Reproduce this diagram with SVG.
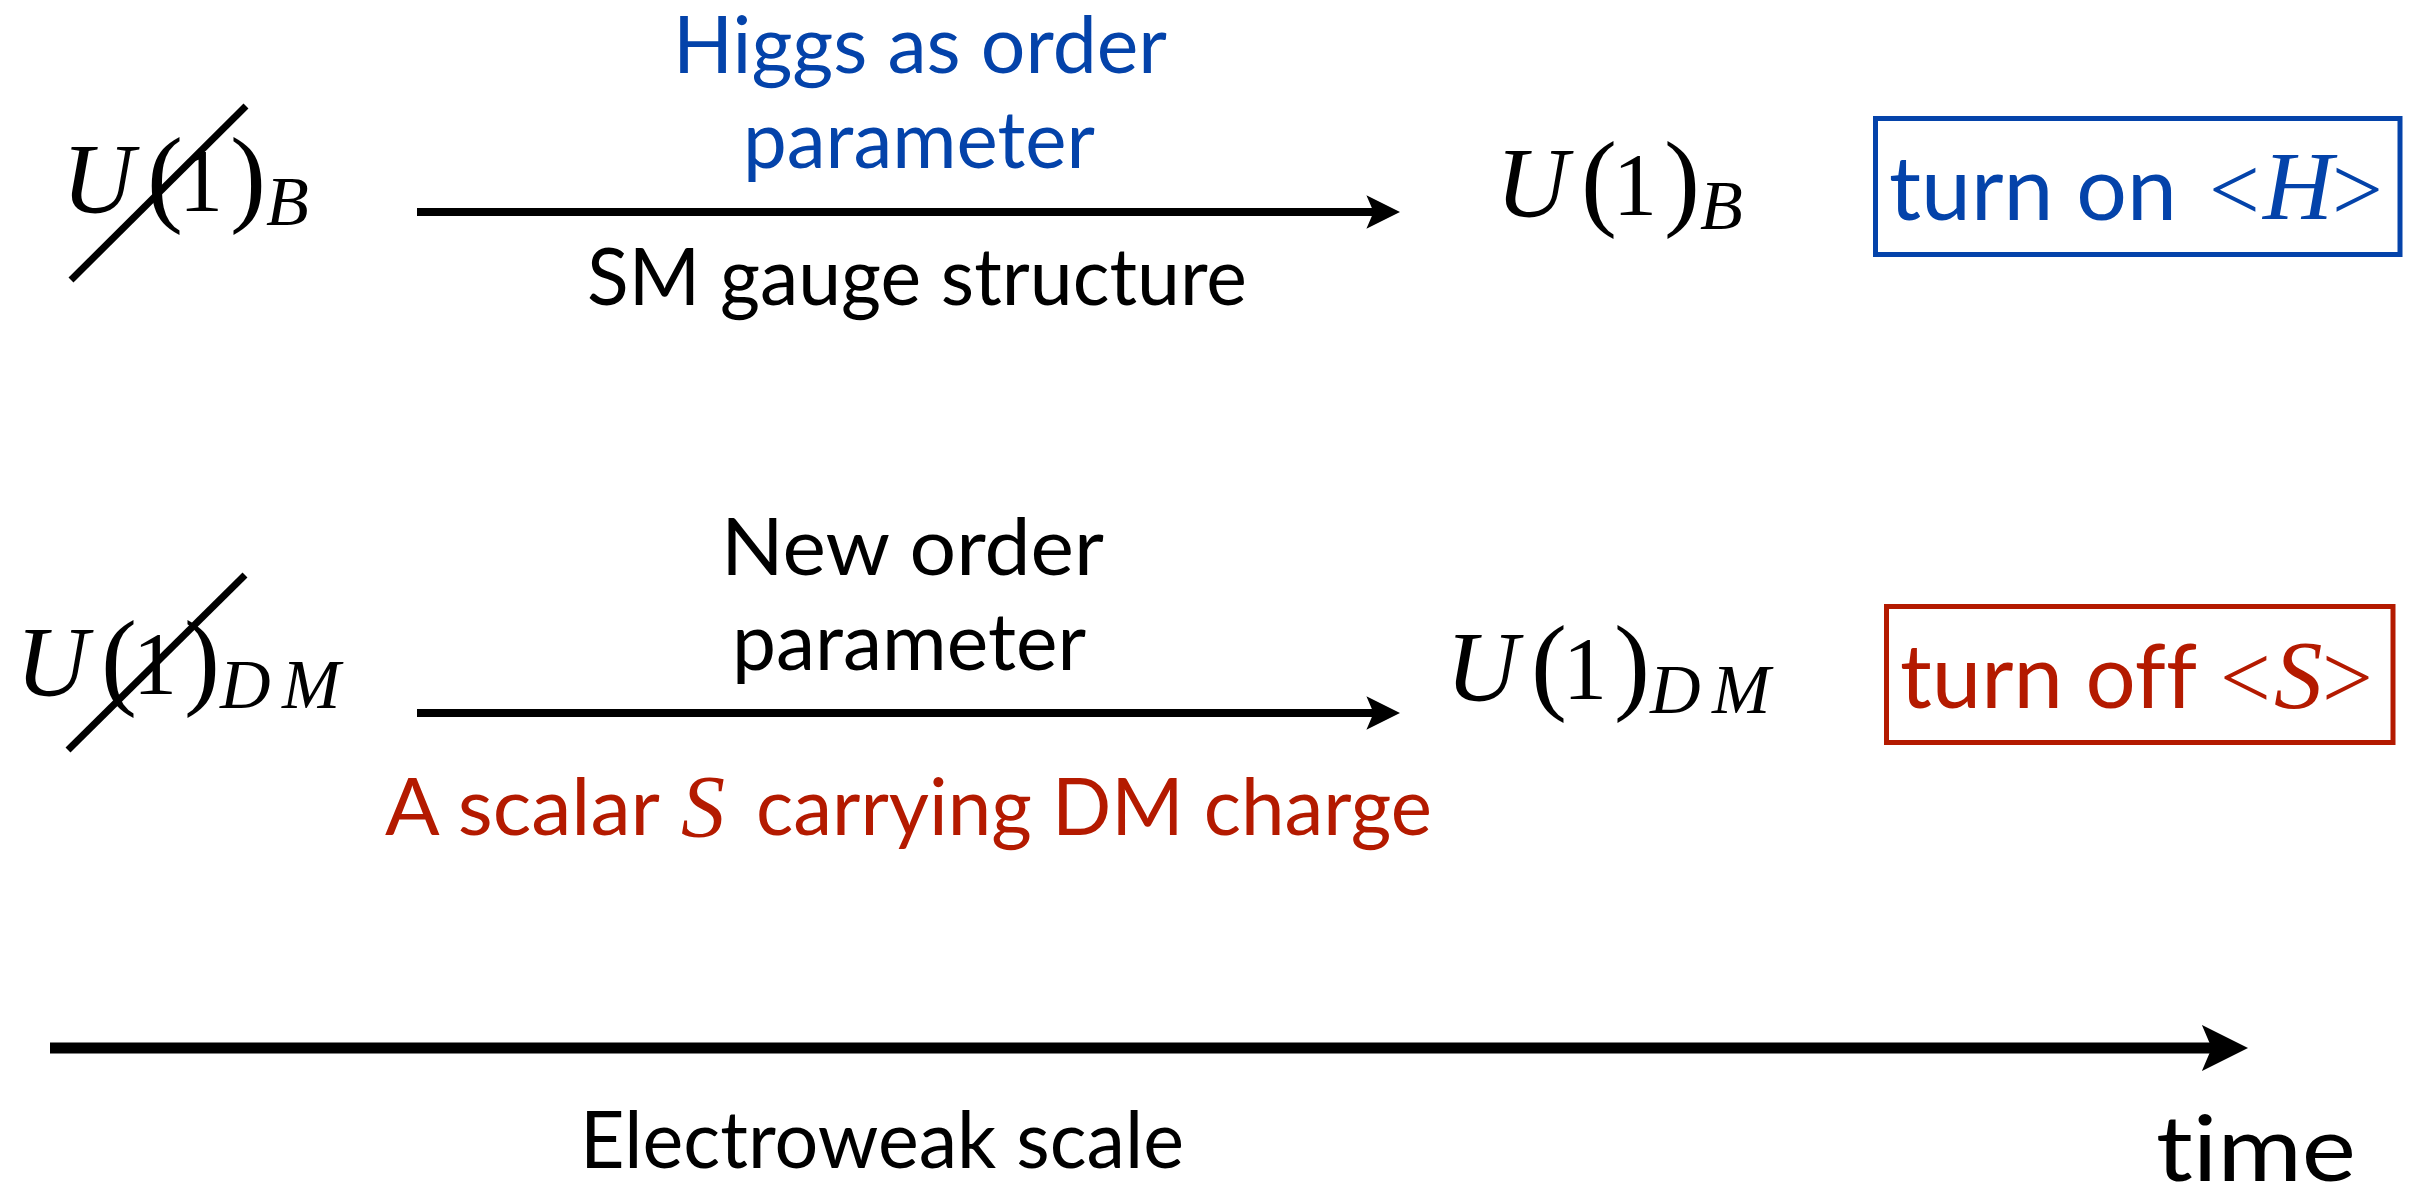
<svg xmlns="http://www.w3.org/2000/svg" width="2426" height="1195" viewBox="0 0 2426 1195">
<style>
.sans{font-family:Lato,"Open Sans","Liberation Sans",sans-serif;font-weight:400;font-variant-ligatures:none;font-feature-settings:"liga" 0,"clig" 0}
.math{font-family:"Liberation Serif","DejaVu Serif",serif}
.it{font-style:italic}
.blue{fill:#0443AA}
.red{fill:#B41A00}
.blk{fill:#000}
.conn{stroke:#000;fill:none}
.slash{stroke:#000;stroke-width:7;stroke-linecap:butt}
</style>
<defs>
<marker id="head" viewBox="0 0 4.2 4.2" markerWidth="4.2" markerHeight="4.2" refX="1.2" refY="2.1" orient="auto" markerUnits="strokeWidth">
<path d="M0,0 L4.2,2.1 L0,4.2 L0.9,2.1 Z" fill="#000"/>
</marker>
</defs>
<rect width="2426" height="1195" fill="#fff"/>

<g id="connectors">
<line class="conn" x1="417" y1="212" x2="1376" y2="212" stroke-width="8" marker-end="url(#head)"/>
<line class="conn" x1="417" y1="713" x2="1376" y2="713" stroke-width="8" marker-end="url(#head)"/>
<line class="conn" x1="50" y1="1048" x2="2215" y2="1048" stroke-width="11" marker-end="url(#head)"/>
</g>

<g id="u1b-broken">
<text class="math blk"><tspan class="it" x="62" y="212" font-size="100">U</tspan><tspan x="147" y="212" font-size="108">(</tspan><tspan x="179" y="210" font-size="88">1</tspan><tspan x="230" y="212" font-size="108">)</tspan><tspan class="it" x="266" y="225" font-size="70">B</tspan></text>
<line class="slash" x1="71" y1="280" x2="246" y2="106"/>
</g>

<g id="label-higgs">
<text class="sans blue" x="673" y="73" font-size="80" textLength="494" lengthAdjust="spacingAndGlyphs">Higgs as order</text>
<text class="sans blue" x="743" y="168" font-size="80" textLength="352" lengthAdjust="spacingAndGlyphs">parameter</text>
</g>
<g id="label-sm">
<text class="sans blk" x="587" y="305" font-size="80" textLength="660" lengthAdjust="spacingAndGlyphs">SM gauge structure</text>
</g>

<g id="u1b">
<text class="math blk"><tspan class="it" x="1496" y="216" font-size="100">U</tspan><tspan x="1581" y="216" font-size="108">(</tspan><tspan x="1613" y="214" font-size="88">1</tspan><tspan x="1664" y="216" font-size="108">)</tspan><tspan class="it" x="1700" y="229" font-size="70">B</tspan></text>
</g>

<g id="box-higgs">
<rect x="1875.5" y="118.5" width="524.5" height="136" fill="none" stroke="#0443AA" stroke-width="5"/>
<text class="sans blue" x="1889" y="220" font-size="89" textLength="288" lengthAdjust="spacingAndGlyphs">turn on</text>
<text class="math blue"><tspan x="2209" y="220" font-size="90">&lt;</tspan><tspan class="it" x="2263" y="219" font-size="97">H</tspan><tspan x="2332" y="220" font-size="90">&gt;</tspan></text>
</g>

<g id="u1dm-broken">
<text class="math blk"><tspan class="it" x="16" y="695" font-size="100">U</tspan><tspan x="101" y="695" font-size="108">(</tspan><tspan x="133" y="693" font-size="88">1</tspan><tspan x="184" y="695" font-size="108">)</tspan><tspan class="it" x="220" y="708" font-size="70">D</tspan><tspan class="it" x="282" y="708" font-size="70">M</tspan></text>
<line class="slash" x1="68" y1="750" x2="245" y2="575"/>
</g>

<g id="label-new">
<text class="sans blk" x="721" y="575" font-size="80" textLength="383" lengthAdjust="spacingAndGlyphs">New order</text>
<text class="sans blk" x="732" y="670" font-size="80" textLength="354" lengthAdjust="spacingAndGlyphs">parameter</text>
</g>
<g id="label-scalar">
<text class="sans red" x="385" y="835" font-size="80" textLength="275" lengthAdjust="spacingAndGlyphs">A scalar</text>
<text class="math it red" x="681" y="836" font-size="88">S</text>
<text class="sans red" x="756" y="835" font-size="80" textLength="676" lengthAdjust="spacingAndGlyphs">carrying DM charge</text>
</g>

<g id="u1dm">
<text class="math blk"><tspan class="it" x="1446" y="700" font-size="100">U</tspan><tspan x="1531" y="700" font-size="108">(</tspan><tspan x="1563" y="698" font-size="88">1</tspan><tspan x="1614" y="700" font-size="108">)</tspan><tspan class="it" x="1650" y="713" font-size="70">D</tspan><tspan class="it" x="1712" y="713" font-size="70">M</tspan></text>
</g>

<g id="box-scalar">
<rect x="1886.5" y="606.5" width="506.5" height="136" fill="none" stroke="#B41A00" stroke-width="5"/>
<text class="sans red" x="1900" y="708" font-size="89" textLength="297" lengthAdjust="spacingAndGlyphs">turn off</text>
<text class="math red"><tspan x="2220" y="708" font-size="90">&lt;</tspan><tspan class="it" x="2274" y="708" font-size="97">S</tspan><tspan x="2322" y="708" font-size="90">&gt;</tspan></text>
</g>

<g id="label-ew">
<text class="sans blk" x="580" y="1168" font-size="80" textLength="604" lengthAdjust="spacingAndGlyphs">Electroweak scale</text>
</g>
<g id="label-time">
<text class="sans blk" x="2156" y="1181" font-size="92" textLength="200" lengthAdjust="spacingAndGlyphs">time</text>
</g>
</svg>
